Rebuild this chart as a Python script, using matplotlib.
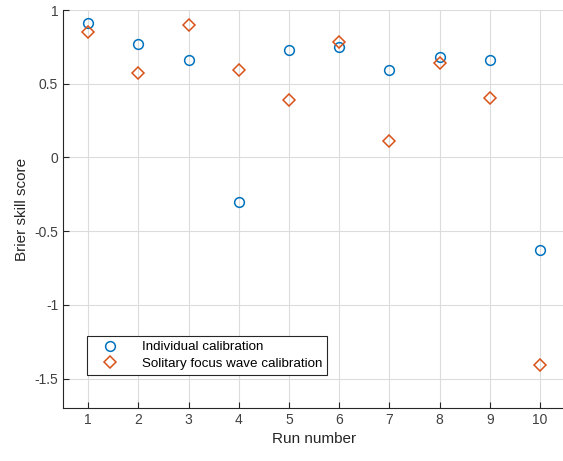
import matplotlib
matplotlib.use("Agg")
import matplotlib.pyplot as plt
import numpy as np

plt.rcParams['font.family'] = ['Liberation Sans', 'DejaVu Sans']

runs = np.arange(1, 11)
individual = [0.91, 0.77, 0.66, -0.30, 0.73, 0.75, 0.59, 0.68, 0.66, -0.63]
solitary = [0.85, 0.57, 0.90, 0.59, 0.39, 0.78, 0.11, 0.64, 0.40, -1.41]

fig = plt.figure(figsize=(5.63, 4.61), dpi=100)
ax = fig.add_axes([63 / 563, 1 - 408 / 461, 502 / 563, 398 / 461])

ax.plot(runs, individual, 'o', mfc='none', mec='#0072BD', ms=7, mew=1.1,
        label='Individual calibration')
ax.plot(runs, solitary, 'D', mfc='none', mec='#D95319', ms=6, mew=1.1,
        label='Solitary focus wave calibration')

ax.set_xlim(0.5, 10.5)
ax.set_ylim(-1.7, 1)
ax.set_xticks(runs)
ax.set_yticks([-1.5, -1, -0.5, 0, 0.5, 1])
ax.set_yticklabels(['-1.5', '-1', '-0.5', '0', '0.5', '1'])
ax.grid(True, color='#dcdcdc', linewidth=0.8)
ax.set_axisbelow(True)
ax.spines['top'].set_visible(False)
ax.spines['right'].set_visible(False)
ax.spines['left'].set_color('#262626')
ax.spines['bottom'].set_color('#262626')
ax.tick_params(direction='in', length=4, labelsize=10, colors='#262626',
               labelcolor='#404040')
ax.set_xlabel('Run number', fontsize=11, color='#262626')
ax.set_ylabel('Brier skill score', fontsize=11, color='#262626')

leg = ax.legend(loc='lower left', bbox_to_anchor=(24 / 502, 33 / 398),
                fontsize=9.6, fancybox=False, framealpha=1, edgecolor='#262626',
                borderpad=0.4, labelspacing=0.3, handlelength=2.6,
                handletextpad=1.1, borderaxespad=0)
leg.get_frame().set_linewidth(0.8)

fig.savefig('out.png', dpi=100)
